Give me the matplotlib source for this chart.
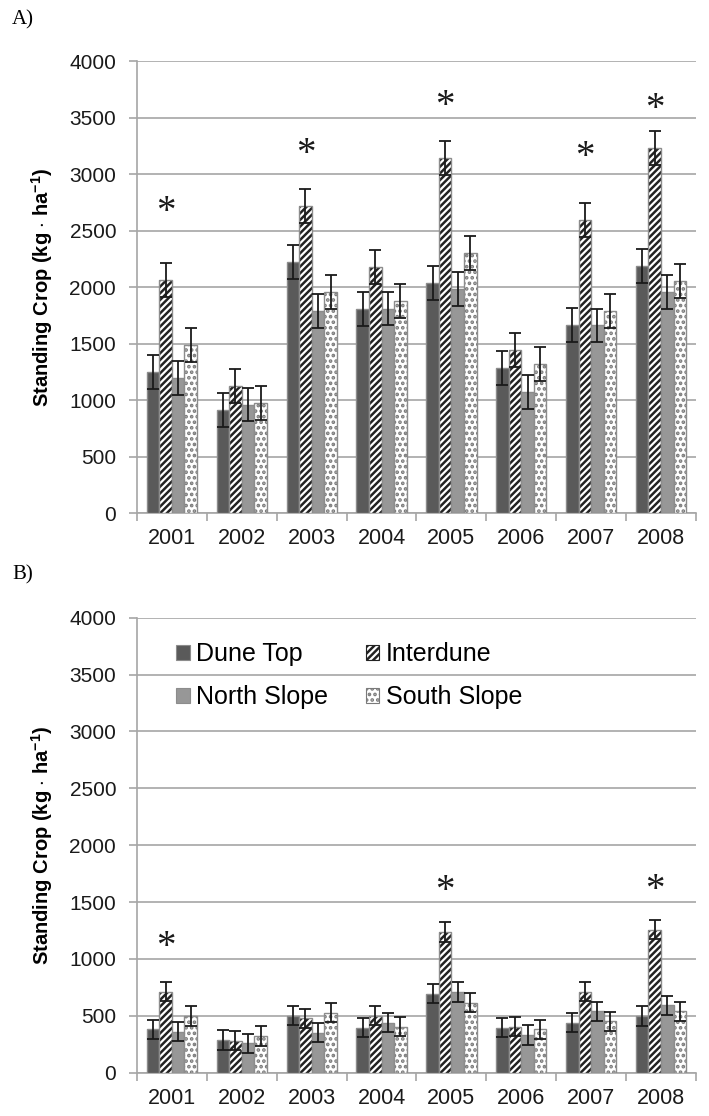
import matplotlib.pyplot as plt
import numpy as np
from matplotlib.patches import Patch

plt.rcParams['font.family'] = ['Liberation Sans', 'DejaVu Sans']
plt.rcParams['mathtext.fontset'] = 'custom'
plt.rcParams['mathtext.bf'] = 'Liberation Sans:bold'
plt.rcParams['mathtext.rm'] = 'Liberation Sans'
plt.rcParams['hatch.linewidth'] = 1.8

# ---------------- data ----------------
years = ['2001', '2002', '2003', '2004', '2005', '2006', '2007', '2008']
series = ['Dune Top', 'Interdune', 'North Slope', 'South Slope']

# A) standing crop
a_dune_top = [1250, 915, 2225, 1805, 2035, 1280, 1665, 2190]
a_interdune = [2065, 1125, 2720, 2180, 3145, 1445, 2595, 3230]
a_north = [1195, 960, 1790, 1810, 1980, 1075, 1660, 1960]
a_south = [1485, 975, 1955, 1880, 2305, 1320, 1790, 2055]
a_err = [150, 150, 150, 150, 150, 150, 150, 150]
a_star = [2730, None, 3250, None, 3670, None, 3220, 3645]

# B) standing crop
b_dune_top = [380, 287, 500, 396, 695, 396, 440, 498]
b_interdune = [712, 281, 478, 501, 1237, 404, 712, 1257]
b_north = [361, 258, 352, 440, 709, 331, 540, 592]
b_south = [498, 322, 528, 404, 615, 381, 452, 540]
b_err = [85, 85, 85, 85, 85, 85, 85, 85]
b_star = [1175, None, None, None, 1670, None, None, 1678]

EDGE = '#8c8c8c'
GRID = '#a6a6a6'
styles = [
    dict(color='#5a5a5a', hatch=None, hcol=None),
    dict(color='white', hatch='/////', hcol='#222222'),
    dict(color='#979797', hatch=None, hcol=None),
    dict(color='white', hatch='...', hcol='#7a7a7a'),
]

fig = plt.figure(figsize=(7.09, 11.16), dpi=100)
ax_a = fig.add_axes([0.1932, 0.5403, 0.7884, 0.4050])
ax_b = fig.add_axes([0.1932, 0.0388, 0.7884, 0.4077])


def draw_panel(ax, values, err, stars):
    x = np.arange(len(years))
    w = 0.18
    for i, (vals, st) in enumerate(zip(values, styles)):
        pos = x + (i - 1.5) * w
        if st['hatch']:
            ax.bar(pos, vals, w, color=st['color'], hatch=st['hatch'],
                   edgecolor=st['hcol'], linewidth=0, zorder=3)
            ax.bar(pos, vals, w, fill=False, edgecolor=EDGE,
                   linewidth=1.0, zorder=3)
        else:
            ax.bar(pos, vals, w, color=st['color'], edgecolor=EDGE,
                   linewidth=1.0, zorder=3)
        ax.errorbar(pos, vals, yerr=err, fmt='none', ecolor='#1a1a1a',
                    elinewidth=1.3, capsize=4, capthick=1.3, zorder=4)
    # significance marks above the interdune bars
    for xi, s in zip(x, stars):
        if s is not None:
            ax.annotate('*', (xi - 0.5 * w, s), xytext=(0, -6),
                        textcoords='offset points', ha='center', va='center',
                        fontsize=28, family='Liberation Serif',
                        color='#1a1a1a')

    ax.set_xlim(-0.5, len(years) - 0.5)
    ax.set_ylim(0, 4000)
    ax.set_yticks(np.arange(0, 4001, 500))
    ax.yaxis.grid(True, color=GRID, linewidth=1.2, zorder=0)
    ax.set_axisbelow(True)
    ax.set_xticks(x)
    ax.set_xticklabels(years)
    ax.set_xticks(np.arange(-0.5, len(years)), minor=True)
    ax.tick_params(axis='x', which='major', length=0, pad=11, labelsize=15.5,
                   colors='#1a1a1a')
    ax.tick_params(axis='x', which='minor', length=6, width=1.2, color=GRID)
    ax.tick_params(axis='y', length=6, width=1.2, color=GRID, pad=9,
                   labelsize=15, labelcolor='#1a1a1a')
    for side in ['top', 'right']:
        ax.spines[side].set_visible(False)
    for side in ['left', 'bottom']:
        ax.spines[side].set_color(GRID)
        ax.spines[side].set_linewidth(1.2)
    ax.set_ylabel(r'Standing Crop (kg $\cdot$ ha$^{\mathbf{-1}}$)',
                  fontsize=14.5, fontweight='bold', labelpad=10)


draw_panel(ax_a, [a_dune_top, a_interdune, a_north, a_south], a_err, a_star)
draw_panel(ax_b, [b_dune_top, b_interdune, b_north, b_south], b_err, b_star)

fig.text(0.017, 0.982, 'A)', family='Liberation Serif', fontsize=15,
         va='center', ha='left')
fig.text(0.017, 0.485, 'B)', family='Liberation Serif', fontsize=15,
         va='center', ha='left')

# legend: two columns, dune top / north slope first
handles = []
for st, name in zip(styles, series):
    if st['hatch']:
        handles.append(Patch(facecolor=st['color'], hatch=st['hatch'],
                             edgecolor=st['hcol'], linewidth=0.8,
                             label=name))
    else:
        handles.append(Patch(facecolor=st['color'], edgecolor=EDGE,
                             linewidth=0.8, label=name))
order = [0, 2, 1, 3]
ax_b.legend([handles[i] for i in order], [series[i] for i in order],
            ncol=2, loc='upper left', bbox_to_anchor=(0.052, 0.968),
            frameon=False, fontsize=18, handlelength=0.55,
            handleheight=0.55, handletextpad=0.25, labelspacing=0.75,
            columnspacing=1.5, borderaxespad=0)

fig.savefig('out.png', dpi=100)
